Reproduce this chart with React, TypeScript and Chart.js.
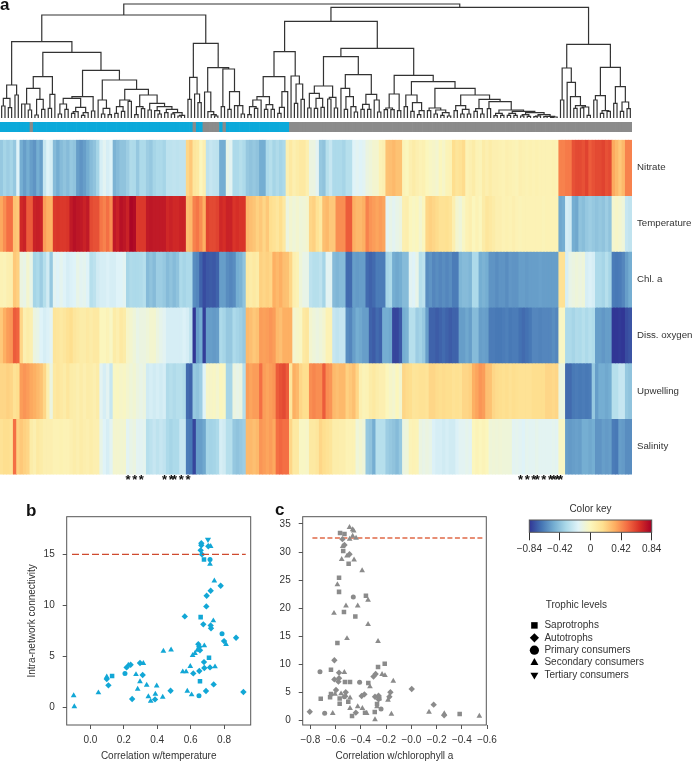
import React, { useEffect, useRef } from "react";
import { Chart, registerables } from "chart.js";

Chart.register(...registerables);

const FONT = "'Liberation Sans', Arial, sans-serif";
const INK = "#333333";
const BLUE = "#12A7D6";
const GREY = "#8B8B8B";

// ---------- panel a: heat map ----------
const rowLabels = ["Nitrate", "Temperature", "Chl. a", "Diss. oxygen", "Upwelling", "Salinity"];

const nitrate = [
  -.4,-.35,-.38,-.35,-.4,-.17,-.5,-.55,-.5,-.55,
  -.58,-.5,-.55,-.25,-.17,-.2,-.45,-.5,-.45,-.42,
  -.45,-.4,-.42,-.55,-.58,-.55,-.5,-.45,-.42,-.35,
  -.2,-.15,-.2,-.17,-.48,-.45,-.42,-.42,-.38,-.32,
  -.33,-.4,-.33,-.33,-.38,-.4,-.35,-.33,-.33,-.35,
  -.28,-.28,-.27,-.28,-.27,-.27,.2,.25,.12,.1,
  0,.05,-.28,-.25,-.27,-.28,-.5,-.5,-.12,-.15,
  -.33,-.33,-.3,-.33,-.4,-.42,-.4,-.42,-.5,-.5,
  -.33,-.3,-.35,-.32,-.35,-.33,.05,.1,.05,.08,
  .1,.1,.05,-.1,-.1,-.15,-.4,-.42,-.3,-.25,
  -.33,-.33,-.33,-.35,-.3,-.3,-.17,-.15,-.17,-.15,
  -.1,-.08,-.05,-.05,.03,.05,.27,.28,.3,.27,
  .27,.02,0,.05,.08,.05,.03,.04,0,-.02,
  -.03,-.05,0,-.03,.02,.03,.17,.13,.15,.18,
  .03,.05,.08,.03,.02,.08,.05,.08,.05,.05,
  .04,.03,.05,.04,.03,.02,.05,.04,.03,.04,
  .03,.04,.03,.03,.03,.03,.04,.03,.45,.45,
  .47,.47,.58,.6,.6,.58,.62,.55,.58,.6,
  .6,.62,.58,.6,.35,.3,.25,.3,.45,.45,
];
const temperature = [
  .35,.42,.5,.5,.27,.25,.7,.72,.55,.55,
  .72,.73,.72,.38,.33,.32,.65,.66,.65,.65,
  .66,.75,.78,.76,.75,.72,.75,.6,.58,.58,
  .48,.45,.5,.42,.75,.72,.78,.76,.72,.82,
  .8,.65,.65,.65,.75,.76,.75,.75,.75,.75,
  .7,.72,.7,.7,.72,.72,.28,.3,.45,.48,
  .42,.33,.62,.6,.6,.62,.7,.68,.72,.72,
  .66,.68,.66,.66,.3,.28,.26,.22,.25,.2,
  .25,.17,.15,.12,.17,.1,-.1,-.05,-.08,-.05,
  -.08,-.07,-.05,.2,.22,.15,.1,.28,.3,.25,
  .25,.42,.42,.42,.55,.55,.33,.3,.3,.33,
  .45,.4,.38,.36,.38,.36,-.15,-.12,-.15,-.12,
  -.1,.05,.06,0,-.02,0,-.05,0,.2,.22,
  .2,.18,.15,.15,.16,.14,.05,-.05,-.08,-.02,
  .03,.05,0,.03,0,.08,.12,.1,.08,.05,
  .05,.03,.04,.03,.05,.03,.02,.03,.03,.03,
  .03,.03,.03,.02,.03,.03,.03,.03,-.52,-.5,
  -.2,-.22,-.5,-.52,-.42,-.44,-.4,-.38,-.4,-.42,
  -.4,-.42,-.38,-.42,-.05,-.03,-.05,-.08,-.25,-.27,
];
const chlA = [
  .03,.02,.05,.06,.25,.22,-.1,-.12,-.05,-.12,
  -.35,-.33,-.38,-.3,-.22,-.4,-.15,-.17,-.14,-.17,
  -.2,-.18,-.17,-.12,-.15,-.14,-.17,-.3,-.28,-.22,
  -.2,-.2,-.18,-.2,-.2,-.17,-.17,-.15,-.35,-.32,
  -.33,-.33,-.32,-.3,-.45,-.42,-.45,-.38,-.38,-.4,
  -.45,-.42,-.45,-.42,-.33,-.35,-.33,-.33,-.6,-.62,
  -.72,-.78,-.75,-.74,-.75,-.72,-.55,-.55,-.6,-.62,
  -.6,-.5,-.48,-.42,.1,.08,.1,.08,.22,.2,
  .22,.2,.33,.3,.33,.28,.27,.2,.05,.03,
  -.08,-.12,-.12,-.28,-.3,-.3,-.28,-.35,-.15,-.15,
  -.45,-.47,-.45,-.45,-.7,-.7,-.55,-.56,-.55,-.55,
  -.7,-.72,-.7,-.65,-.65,-.65,-.35,-.33,-.5,-.52,
  -.5,-.45,-.45,-.15,-.17,-.12,-.3,-.28,-.6,-.58,
  -.62,-.6,-.62,-.6,-.62,-.6,-.65,-.65,-.47,-.45,
  -.45,-.47,-.33,-.33,-.5,-.48,-.5,-.58,-.58,-.6,
  -.58,-.58,-.6,-.57,-.58,-.58,-.55,-.55,-.56,-.55,
  -.55,-.55,-.54,-.55,-.55,-.55,-.55,-.55,.15,.15,
  -.2,-.12,-.1,-.08,-.1,-.08,-.2,-.18,-.2,-.33,
  -.33,-.35,-.3,-.35,-.65,-.66,-.65,-.62,-.55,-.5,
];
const dissOxygen = [
  .25,.33,.38,.4,.55,.53,.2,.05,.08,.05,
  -.1,-.12,-.17,-.2,-.18,-.15,.13,.12,.1,.12,
  .15,.17,.12,.1,.08,.08,.1,.08,.1,.1,
  0,0,.02,-.02,.08,.05,.1,.08,-.03,-.05,
  -.08,-.12,-.1,-.1,-.08,-.05,-.05,-.1,-.13,-.15,
  -.2,-.2,-.2,-.2,-.2,-.18,-.2,-.28,-.84,-.55,
  -.5,-.82,-.55,-.55,-.56,-.55,-.33,-.35,-.4,-.4,
  -.33,-.35,-.37,-.4,.3,.28,.25,.27,.38,.37,
  .38,.4,.38,.3,.28,.33,.33,.33,-.05,-.03,
  -.02,.1,.12,-.05,-.08,-.1,-.08,-.05,.03,.03,
  -.25,-.27,-.25,-.25,-.6,-.62,-.55,-.5,-.52,-.55,
  -.55,-.72,-.74,-.7,-.72,-.5,-.5,-.52,-.8,-.8,
  -.75,-.5,-.48,-.3,-.3,-.38,-.36,-.4,-.55,-.72,
  -.72,-.74,-.72,-.7,-.72,-.74,-.72,-.72,-.55,-.55,
  -.52,-.55,-.45,-.45,-.55,-.54,-.55,-.65,-.65,-.66,
  -.66,-.65,-.64,-.66,-.65,-.65,-.68,-.7,-.68,-.66,
  -.62,-.62,-.63,-.62,-.62,-.62,-.6,-.62,-.02,-.02,
  -.33,-.33,-.35,-.32,-.33,-.3,-.33,-.3,-.32,-.55,
  -.55,-.57,-.55,-.55,-.84,-.84,-.83,-.84,-.78,-.76,
];
const upwelling = [
  .2,.2,.22,.2,.15,.17,.38,.4,.38,.35,
  .33,.3,.27,.2,.05,-.1,.1,.12,.1,.08,
  .12,.08,.07,.05,.08,.05,.08,.07,.05,.08,
  -.15,-.2,-.15,-.25,-.02,-.01,-.03,-.02,-.05,-.08,
  -.06,-.1,-.12,-.1,-.22,-.2,-.22,-.2,-.22,-.2,
  -.32,-.3,-.32,-.3,-.3,-.32,-.7,-.72,-.4,-.42,
  -.38,-.17,-.03,-.03,-.02,-.05,0,-.02,-.35,-.35,
  -.1,-.12,-.1,-.3,.38,.36,.38,.38,.5,.38,
  .36,.38,.4,.55,.58,.6,.55,.12,.33,.3,
  .2,.17,.17,.42,.44,.42,.42,.55,.42,.4,
  .3,.28,.3,.3,.22,.25,.28,.2,.05,.02,
  .03,.08,.1,.07,.05,.05,0,-.03,-.05,0,
  -.05,.2,.18,.17,.13,.14,.15,.15,.14,.2,
  .2,.18,.17,.18,.17,.17,.15,.16,.15,.2,
  .2,.22,.33,.36,.4,.38,.28,.27,.2,.18,
  .17,.16,.17,.15,.17,.16,.15,.15,.15,.15,
  .17,.17,.17,.17,.2,.2,.19,.2,-.1,-.1,
  -.7,-.7,-.66,-.65,-.66,-.65,-.66,-.65,-.4,-.55,
  -.5,-.5,-.52,-.5,-.3,-.3,-.25,-.25,-.4,-.42,
];
const salinity = [
  .15,.17,.17,.15,.5,.22,.25,.22,.2,.08,
  .05,.1,.08,.05,.05,.05,.03,.03,.04,.03,
  .03,.05,.07,.05,.08,.06,.05,.07,.05,.05,
  -.12,-.17,-.2,-.15,-.05,-.05,-.06,-.05,-.15,-.12,
  -.1,-.15,-.15,-.14,-.3,-.28,-.25,-.28,-.25,-.27,
  -.33,-.35,-.33,-.33,-.25,-.25,-.65,-.66,-.8,-.55,
  -.55,-.52,-.35,-.36,-.35,-.33,-.2,-.22,-.3,-.3,
  -.4,-.42,-.4,-.38,.3,.3,.28,.3,.4,.38,
  .36,.38,.35,.5,.52,.5,.5,.2,.1,.1,
  -.02,-.02,-.03,.1,.1,.12,.2,.17,.15,.13,
  .07,.07,.06,.06,.03,.03,.03,-.08,-.05,-.08,
  -.4,-.42,-.5,-.3,-.3,-.3,-.38,-.4,-.42,-.45,
  -.4,-.1,-.08,.02,.03,.02,-.1,-.12,-.1,-.12,
  -.18,-.2,-.2,-.22,-.2,-.22,-.22,-.18,-.15,-.15,
  -.13,-.15,0,.02,0,.02,0,-.08,-.07,-.08,
  -.07,-.08,-.08,-.08,-.15,-.14,-.15,-.17,-.14,-.15,
  -.15,-.13,-.15,-.15,-.15,-.15,-.14,-.15,-.02,-.02,
  -.55,-.56,-.55,-.54,-.55,-.5,-.5,-.52,-.5,-.58,
  -.58,-.55,-.56,-.55,-.65,-.66,-.55,-.56,-.6,-.6,
];
const heatRows = [nitrate, temperature, chlA, dissOxygen, upwelling, salinity];

// 0 = blue module, 1 = grey module
const moduleOfColumn = [
  0,0,0,0,0,0,0,0,0,1,
  0,0,0,0,0,0,0,0,0,0,
  0,0,0,0,0,0,0,0,0,0,
  0,0,0,0,0,0,0,0,0,0,
  0,0,0,0,0,0,0,0,0,0,
  0,0,0,0,0,0,0,0,1,0,
  0,1,1,1,1,1,0,1,0,0,
  0,0,0,0,0,0,0,0,0,0,
  0,0,0,0,0,0,0,1,1,1,
  1,1,1,1,1,1,1,1,1,1,
  1,1,1,1,1,1,1,1,1,1,
  1,1,1,1,1,1,1,1,1,1,
  1,1,1,1,1,1,1,1,1,1,
  1,1,1,1,1,1,1,1,1,1,
  1,1,1,1,1,1,1,1,1,1,
  1,1,1,1,1,1,1,1,1,1,
  1,1,1,1,1,1,1,1,1,1,
  1,1,1,1,1,1,1,1,1,1,
  1,1,1,1,1,1,1,1,1,1,
];
const starredColumns = [38, 40, 42, 49, 51, 52, 54, 56, 156, 158, 160, 161, 163, 165, 166, 167, 168];

// ---------- panel a: dendrogram, as nested [height, left, right]; 0 is a leaf ----------
const subtreeA1a = [99, [59, [36, 0, 0], [31, 0, 0]], [69, 0, 0]];
const subtreeA1b = [124, [89, [42, [42, 0, 0], [24, 0, 0]], [56, [9, 0, 0], [26, 0, 0]]], [71, [29, 0, 0], 0]];
const subtreeA1c = [64, [59, [42, [12, 0, 0], [26, 0, 0]], [32, [19, [14, 0, 0], 0], [16, [8, 0, 0], 0]]], [21, 0, 0]];
const subtreeA1d = [114, [54, 0, [29, [12, 0, 0], [10, 0, 0]]],
  [86, [54, [34, [14, 0, 0], [20, 0, 0]], [50, 0, 0]],
    [69, [34, [10, 0, 0], [28, 0, 0]],
      [44, [24, 0, 0], [34, [22, 0, [12, 0, 0]], [26, [16, 0, 0], [16, [12, 0, 0], [8, [6, 0, 0], 0]]]]]]]];
const subtreeA2 = [224, [122, [56, 0, 0], [72, 0, [46, 0, 0]]],
  [151, [78, 0, [19, 0, [10, 0, [6, 0, 0]]]],
    [147, [34, 0, 0], [79, [26, 0, 0], [37, [37, 0, 0], [12, 0, 0]]]]]];
const subtreeB1a = [199, [124, [64, [54, [34, [10, 0, 0], [29, 0, 0]], 0], [40, [26, 0, 0], [26, 0, 0]]],
  [79, [32, [14, 0, 0], 0], 0]], [126, 0, [102, [44, 0, 0], [56, 0, 0]]]];
const subtreeB1b = [184, [96, [74, [30, 0, 0], [59, [29, 0, 0], [32, 0, 0]]], [62, [57, 0, 0], [30, 0, 0]]],
  [130, [89, 0, [64, [26, 0, 0], [34, 0, [18, 0, 0]]]], [71, [41, [26, 0, 0], [26, 0, 0]], [54, 0, [18, 0, 0]]]]];
const subtreeTail = [16, [10, [6, 0, 0], [5, 0, 0]], [10, [6, [4, 0, 0], 0], [5, [4, 0, 0], [3, [2, 0, 0], 0]]]];
const subtreeB1c = [128, [72, [30, [25, 0, 0], [25, 0, 0]], [22, 0, 0]],
  [109, [69, [34, 0, 0], [46, [20, 0, 0], [22, [10, 0, 0], 0]]],
    [89, [30, [22, 0, 0], [24, [12, 0, 0], [16, [8, 0, 0], [6, 0, 0]]]],
      [69, [37, [22, 0, 0], [26, [12, 0, 0], [12, 0, 0]]],
        [56, [28, [20, 0, 0], [12, 0, 0]],
          [49, [28, 0, 0], [24, [14, [7, 0, 0], [8, 0, 0]], [20, [14, [8, 0, 0], [8, 0, 0]], subtreeTail]]]]]]]];
const subtreeB2 = [221, [150, [54, 0, 0], [107, 0, [64, 0, [37, [29, 0, 0], [33, [30, 0, 0], [8, 0, 0]]]]]],
  [152, [67, [54, 0, 0], [22, [14, 0, 0], [20, 0, 0]]], [94, [44, 0, 0], [48, [20, 0, 0], [28, 0, 0]]]]];
const dendrogramRoot = [342,
  [309, [229, subtreeA1a, [197, subtreeA1b, [143, subtreeA1c, subtreeA1d]]], subtreeA2],
  [332, [290, subtreeB1a, [209, subtreeB1b, subtreeB1c]], subtreeB2]];

// ---------- panel b: [correlation with temperature, connectivity] ----------
const bSaprotrophs = [[.13,3.07],[.66,8.85],[.68,14.5],[.71,4.87],[.656,2.55]];
const bAutotrophs = [
  [.664,15.9],[.664,16.1],[.66,15.4],[.668,15],[.706,15.8],[.72,11.44],[.696,10.95],[.78,11.93],[.694,9.9],
  [.565,8.92],[.676,8.14],[.72,8.04],[.722,7.75],[.8,6.5],[.872,6.83],[.646,6.2],[.652,5.95],[.656,5.6],
  [.68,4.44],[.682,3.86],[.716,3.92],[.652,3.56],[.616,3.33],[.313,3.17],[.108,2.16],[.098,2.78],[.25,.82],
  [.387,.78],[.48,1.63],[.692,1.6],[.738,2.25],[.916,1.5],[.217,3.92],[.241,4.18],[.297,4.35],
];
const bPrimary = [[.207,3.33],[.716,14.5],[.788,7.22],[.65,1.15]];
const bSecondary = [
  [-.1,1.15],[-.096,.07],[.048,1.44],[.098,3],[.273,3.23],[.283,1.8],[.297,2.52],[.337,2.19],[.397,2.12],
  [.347,1.05],[.361,.62],[.389,1.3],[.433,1.01],[.437,5.52],[.483,5.65],[.553,3.5],[.573,3.5],[.598,4.02],
  [.58,1.6],[.606,1.24],[.612,5.1],[.626,5.3],[.64,5.62],[.682,6.05],[.716,14.05],[.72,15.8],[.742,12.42],
  [.736,8.5],[.746,3.99],[.812,6.18],[.317,4.31],[.227,4.15],
];
const bTertiary = [[.704,16.47]];
const bThreshold = [[-.11,15],[.93,15]];
const bXTicks = [0, .2, .4, .6, .8];
const bYTicks = [0, 5, 10, 15];

// ---------- panel c: [correlation with chlorophyll a, connectivity] ----------
const cSaprotrophs = [
  [-.565,33.4],[-.53,33.2],[-.54,30.2],[-.497,27.9],[-.573,25.4],[-.573,22.9],[-.36,22.2],[-.534,19.3],
  [-.444,18.5],[-.586,13.8],[-.211,10.1],[-.264,9.5],[-.637,9],[-.341,6.65],[-.526,6.83],[-.486,6.83],
  [-.637,4.7],[-.644,4.1],[-.718,3.86],[-.568,2.97],[-.5,3.33],[-.47,.77],[-.29,1.49],[-.367,1.37],
  [.383,1.13],[-.272,2.9],[-.568,3.9],[-.254,3.9],
];
const cAutotrophs = [
  [-.61,10.7],[-.805,1.54],[-.578,6.9],[-.61,7.3],[-.597,5.4],[-.573,8.5],[-.573,7.5],[-.52,5],[-.394,4.34],
  [-.372,4.63],[-.3,7.8],[-.283,8.26],[-.288,4.2],[-.26,4.4],[-.26,3.74],[-.166,5],[-.174,4.2],[.003,5.6],
  [.177,2.8],[.26,.9],[-.44,1.37],[-.49,29.6],[-.53,31.25],[-.546,32.3],
];
const cPrimary = [[-.46,22],[-.724,8.67],[-.687,1.25],[-.41,6.77],[-.53,4.2],[-.24,2.02]];
const cSecondary = [
  [-.49,34.4],[-.465,34],[-.457,33.8],[-.489,32.3],[-.465,32.86],[-.438,32.5],[-.544,31],[-.552,28.7],
  [-.454,28.6],[-.51,29.3],[-.39,26.7],[-.586,24.2],[-.343,21.45],[-.518,20.4],[-.425,20.4],[-.613,19.1],
  [-.343,17.1],[-.51,14.6],[-.264,14.1],[-.531,8.56],[-.232,8.2],[-.209,8],[-.143,7],[-.328,6],[-.623,1.25],
  [-.605,4.7],[-.557,4.75],[-.52,4.4],[-.486,4],[-.486,2.14],[-.425,2.44],[-.388,2.14],[-.354,1.25],
  [-.288,.12],[-.272,2.44],[-.185,3.6],[-.158,1.13],[.14,1.49],[.261,1.19],[.539,.77],
];
const cThreshold = [[-.784,32.5],[.563,32.5]];
const cXTicks = [-.8, -.6, -.4, -.2, 0, .2, .4, .6];
const cYTicks = [0, 5, 10, 15, 20, 25, 30, 35];

// ---------- colour key and legend ----------
const keyTicks = [-.84, -.42, 0, .42, .84];
const keyLabels = ["\u22120.84", "\u22120.42", "0", "0.42", "0.84"];
const rampValues = [-.84, -.672, -.504, -.336, -.168, 0, .168, .336, .504, .672, .84];
const rampColors = ["#313695", "#4575b4", "#74add1", "#abd9e9", "#e0f3f8", "#fbf6bd", "#fee090", "#fdae61", "#f46d43", "#d73027", "#a50026"];
const trophicLevels = ["Saprotrophs", "Autotrophs", "Primary consumers", "Secondary consumers", "Tertiary consumers"];
const trophicShapes = ["rect", "rectRot", "circle", "triangle", "triangle"];
const trophicRotation = [0, 0, 0, 0, 180];

// ---------- helpers ----------
function hexToRgb(h: string) {
  return [1, 3, 5].map((i) => parseInt(h.slice(i, i + 2), 16));
}
function heatColor(v: number) {
  const clamped = Math.max(rampValues[0], Math.min(rampValues[rampValues.length - 1], v));
  let i = 0;
  while (i < rampValues.length - 2 && clamped > rampValues[i + 1]) i++;
  const t = (clamped - rampValues[i]) / (rampValues[i + 1] - rampValues[i]);
  const a = hexToRgb(rampColors[i]);
  const b = hexToRgb(rampColors[i + 1]);
  return `rgb(${a.map((c, k) => Math.round(c + (b[k] - c) * t)).join(",")})`;
}

function dendrogramSegments(root: any) {
  const pts: { x: number; y: number }[] = [];
  let leaf = 0;
  const walk = (node: any): { x: number; h: number } => {
    if (!Array.isArray(node)) return { x: leaf++, h: 0 };
    const l = walk(node[1]);
    const r = walk(node[2]);
    pts.push({ x: l.x, y: l.h }, { x: l.x, y: node[0] }, { x: r.x, y: node[0] }, { x: r.x, y: r.h }, { x: NaN, y: NaN });
    return { x: (l.x + r.x) / 2, h: node[0] };
  };
  walk(root);
  return pts;
}

const toPoints = (a: number[][]) => a.map(([x, y]) => ({ x, y }));
const columns = nitrate.map((_, i) => i);

const framePlugin = {
  id: "frame",
  afterDraw(chart: any) {
    const { ctx, chartArea: a } = chart;
    ctx.save();
    ctx.strokeStyle = "#555555";
    ctx.lineWidth = 1;
    ctx.strokeRect(a.left, a.top, a.right - a.left, a.bottom - a.top);
    ctx.restore();
  },
};

function scatterSeries(label: string, data: number[][], color: string, style: string, radius: number, rotation = 0) {
  return {
    label,
    data: toPoints(data),
    pointStyle: style,
    pointRadius: radius,
    pointRotation: rotation,
    pointBackgroundColor: color,
    pointBorderWidth: 0,
    showLine: false,
  };
}
function thresholdSeries(data: number[][], color: string, dash: number[], width: number) {
  return {
    label: "Threshold",
    data: toPoints(data),
    showLine: true,
    borderColor: color,
    borderWidth: width,
    borderDash: dash,
    pointRadius: 0,
  };
}
function scatterOptions(o: any) {
  const tickFont = { family: FONT, size: 10 };
  return {
    responsive: false,
    animation: false,
    layout: { padding: o.padding },
    plugins: { legend: { display: false }, tooltip: { enabled: false } },
    scales: {
      x: {
        type: "linear",
        min: o.xMin,
        max: o.xMax,
        afterBuildTicks: (s: any) => { s.ticks = o.xTicks.map((value: number) => ({ value })); },
        afterFit: (s: any) => { s.height = o.xHeight; },
        grid: { drawOnChartArea: false, color: "#555555", tickLength: 4 },
        border: { display: false },
        ticks: { font: tickFont, color: INK, padding: 5, maxRotation: 0, autoSkip: false, callback: o.xFormat },
        title: { display: true, text: o.xTitle, font: tickFont, color: INK, padding: { top: 0, bottom: 0 } },
      },
      y: {
        type: "linear",
        min: o.yMin,
        max: o.yMax,
        afterBuildTicks: (s: any) => { s.ticks = o.yTicks.map((value: number) => ({ value })); },
        afterFit: (s: any) => { s.width = o.yWidth; },
        grid: { drawOnChartArea: false, color: "#555555", tickLength: 4 },
        border: { display: false },
        ticks: { font: tickFont, color: INK, padding: 8, autoSkip: false, callback: (v: number) => String(v) },
        title: o.yTitle
          ? { display: true, text: o.yTitle, font: tickFont, color: INK, padding: { top: 26, bottom: 0 } }
          : { display: false },
      },
    },
  };
}

// ---------- chart configurations ----------
const dendrogramConfig: any = {
  type: "scatter",
  data: {
    datasets: [{
      label: "Dendrogram",
      data: dendrogramSegments(dendrogramRoot),
      showLine: true,
      spanGaps: false,
      borderColor: "#333333",
      borderWidth: 1.2,
      borderJoinStyle: "miter",
      pointRadius: 0,
      clip: false,
    }],
  },
  options: {
    responsive: false,
    animation: false,
    layout: { padding: { bottom: 4 } },
    plugins: { legend: { display: false }, tooltip: { enabled: false } },
    scales: {
      x: { type: "linear", display: false, min: -0.5, max: 189.5 },
      y: { type: "linear", display: false, min: 0, max: 354 },
    },
  },
};

const moduleConfig: any = {
  type: "bar",
  data: {
    labels: columns,
    datasets: [{
      label: "Module",
      data: moduleOfColumn.map(() => 1),
      backgroundColor: moduleOfColumn.map((m) => (m ? GREY : "#0BA9DA")),
      barPercentage: 1,
      categoryPercentage: 1,
      borderWidth: 0,
    }],
  },
  options: {
    responsive: false,
    animation: false,
    plugins: { legend: { display: false }, tooltip: { enabled: false } },
    scales: {
      x: { display: false },
      y: { display: false, min: 0, max: 1 },
    },
  },
};

const heatConfig: any = {
  type: "bar",
  data: {
    labels: columns,
    datasets: heatRows.map((row, r) => ({
      label: rowLabels[r],
      data: row.map(() => [r, r + 1]),
      backgroundColor: row.map(heatColor),
      barPercentage: 1,
      categoryPercentage: 1,
      grouped: false,
      borderWidth: 0,
      inflateAmount: 0.4,
    })),
  },
  options: {
    responsive: false,
    animation: false,
    plugins: { legend: { display: false }, tooltip: { enabled: false } },
    scales: {
      x: {
        grid: { display: false, drawTicks: false },
        border: { display: false },
        afterFit: (s: any) => { s.height = 15.5; },
        ticks: {
          autoSkip: false,
          maxRotation: 0,
          minRotation: 0,
          padding: -2,
          color: "#111111",
          font: { family: FONT, size: 13, weight: "bold" },
          callback: (_: any, i: number) => (starredColumns.includes(i) ? "*" : ""),
        },
      },
      y: {
        type: "linear",
        position: "right",
        reverse: true,
        min: 0,
        max: 6,
        grid: { display: false, drawTicks: false },
        border: { display: false },
        afterBuildTicks: (s: any) => { s.ticks = rowLabels.map((_, i) => ({ value: i + 0.5 })); },
        afterFit: (s: any) => { s.width = 60; },
        ticks: {
          padding: 5,
          color: INK,
          font: { family: FONT, size: 9.7 },
          callback: (v: number) => rowLabels[Math.floor(v)],
        },
      },
    },
  },
};

const panelBConfig: any = {
  type: "scatter",
  data: {
    datasets: [
      thresholdSeries(bThreshold, "#CF4A2E", [7, 3], 1.2),
      scatterSeries("Saprotrophs", bSaprotrophs, BLUE, "rect", 3.2),
      scatterSeries("Autotrophs", bAutotrophs, BLUE, "rectRot", 3.2),
      scatterSeries("Primary consumers", bPrimary, BLUE, "circle", 2.5),
      scatterSeries("Secondary consumers", bSecondary, BLUE, "triangle", 3.3),
      scatterSeries("Tertiary consumers", bTertiary, BLUE, "triangle", 3.6, 180),
    ],
  },
  options: scatterOptions({
    padding: { top: 26.7, right: 9.3 },
    xMin: -0.1417, xMax: 0.9596, yMin: -1.73, yMax: 18.7,
    xTicks: bXTicks, yTicks: bYTicks, xHeight: 37, yWidth: 66.7,
    xFormat: (v: number) => v.toFixed(1),
    xTitle: "Correlation w/temperature",
    yTitle: "Intra-network connectivity",
  }),
  plugins: [framePlugin],
};

const panelCConfig: any = {
  type: "scatter",
  data: {
    datasets: [
      scatterSeries("Saprotrophs", cSaprotrophs, GREY, "rect", 3.2),
      scatterSeries("Autotrophs", cAutotrophs, GREY, "rectRot", 3.2),
      scatterSeries("Primary consumers", cPrimary, GREY, "circle", 2.5),
      scatterSeries("Secondary consumers", cSecondary, GREY, "triangle", 3.3),
      thresholdSeries(cThreshold, "#E06A48", [5, 2.5], 1.5),
    ],
  },
  options: scatterOptions({
    padding: { top: 26.7, right: 28.7 },
    xMin: -0.861, xMax: 0.594, yMin: -0.83, yMax: 36.3,
    xTicks: cXTicks, yTicks: cYTicks, xHeight: 37, yWidth: 47.7,
    xFormat: (v: number) => `\u2212${Math.abs(v).toFixed(1)}`,
    xTitle: "Correlation w/chlorophyll a",
    yTitle: null,
  }),
  plugins: [framePlugin],
};

const keyConfig: any = {
  type: "bar",
  data: {
    labels: ["Color key"],
    datasets: [{
      label: "Color key",
      data: [[keyTicks[0], keyTicks[keyTicks.length - 1]]],
      barPercentage: 1,
      categoryPercentage: 1,
      borderWidth: 0,
      backgroundColor: (ctx: any) => {
        const a = ctx.chart.chartArea;
        if (!a) return "#ffffff";
        const g = ctx.chart.ctx.createLinearGradient(a.left, 0, a.right, 0);
        rampColors.forEach((c, i) => g.addColorStop(i / (rampColors.length - 1), c));
        return g;
      },
    }],
  },
  options: {
    indexAxis: "y",
    responsive: false,
    animation: false,
    layout: { padding: { left: 29.3, right: 40.3, top: 0 } },
    plugins: {
      legend: { display: false },
      tooltip: { enabled: false },
      title: {
        display: true,
        text: "Color key",
        color: INK,
        font: { family: FONT, size: 10, weight: "normal" },
        padding: { top: 13, bottom: 5 },
      },
    },
    scales: {
      x: {
        type: "linear",
        min: keyTicks[0],
        max: keyTicks[keyTicks.length - 1],
        afterBuildTicks: (s: any) => { s.ticks = keyTicks.map((value) => ({ value })); },
        afterFit: (s: any) => { s.height = 27.7; },
        grid: { drawOnChartArea: false, color: "#333333", tickLength: 8 },
        border: { display: false },
        ticks: {
          font: { family: FONT, size: 10 },
          color: INK,
          padding: 3,
          maxRotation: 0,
          autoSkip: false,
          callback: (_: any, i: number) => keyLabels[i],
        },
      },
      y: { display: false },
    },
  },
  plugins: [framePlugin],
};

const legendConfig: any = {
  type: "scatter",
  data: {
    datasets: trophicLevels.map((label, i) => ({
      label,
      data: [],
      pointStyle: trophicShapes[i],
      pointRotation: trophicRotation[i],
      pointBackgroundColor: "#000000",
      pointBorderColor: "#000000",
      pointBorderWidth: 0,
    })),
  },
  options: {
    responsive: false,
    animation: false,
    plugins: {
      tooltip: { enabled: false },
      legend: {
        display: true,
        position: "left",
        align: "start",
        maxWidth: 155,
        labels: {
          usePointStyle: true,
          boxHeight: 6.5,
          boxWidth: 10,
          padding: 2.4,
          color: INK,
          font: { family: FONT, size: 10 },
        },
      },
    },
    scales: { x: { display: false }, y: { display: false } },
  },
};

// ---------- components ----------
function ChartCanvas({ config, left, top, width, height }: any) {
  const ref = useRef<HTMLCanvasElement>(null);
  useEffect(() => {
    const chart = new Chart(ref.current as HTMLCanvasElement, config);
    return () => chart.destroy();
  }, [config]);
  return <canvas ref={ref} width={width} height={height} style={{ position: "absolute", left, top, width, height }} />;
}

function Text({ left, top, size = 10, weight = "normal", children }: any) {
  return (
    <div style={{ position: "absolute", left, top, fontFamily: FONT, fontSize: size, fontWeight: weight, color: weight === "bold" ? "#111" : INK, lineHeight: 1, whiteSpace: "nowrap" }}>
      {children}
    </div>
  );
}

export default function App() {
  return (
    <div style={{ position: "fixed", left: 0, top: 0, width: 692, height: 762, background: "#fff", overflow: "hidden" }}>
      <ChartCanvas config={dendrogramConfig} left={0} top={0} width={632} height={122} />
      <ChartCanvas config={moduleConfig} left={0} top={122} width={632} height={10} />
      <ChartCanvas config={heatConfig} left={0} top={129} width={692} height={361} />
      <ChartCanvas config={panelBConfig} left={0} top={490} width={260} height={272} />
      <ChartCanvas config={panelCConfig} left={255} top={490} width={260} height={272} />
      <ChartCanvas config={keyConfig} left={500} top={490} width={192} height={70} />
      <ChartCanvas config={legendConfig} left={527} top={617.5} width={160} height={70} />
      <Text left={0} top={-4} size={17} weight="bold">a</Text>
      <Text left={26} top={502} size={17} weight="bold">b</Text>
      <Text left={275} top={501} size={17} weight="bold">c</Text>
      <Text left={545.7} top={600}>Trophic levels</Text>
    </div>
  );
}
